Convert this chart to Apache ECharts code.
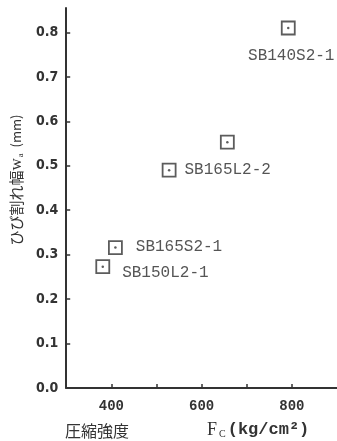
<!DOCTYPE html>
<html>
<head>
<meta charset="utf-8">
<script src="https://cdn.jsdelivr.net/npm/echarts@6/dist/echarts.min.js"></script>
<style>
html,body{margin:0;padding:0;background:#fff;}
#c{width:337px;height:441px;}
</style>
</head>
<body>
<div id="c"></div>
<script>
// ---- data ----
const specimens = ['SB140S2-1', '', 'SB165L2-2', 'SB165S2-1', 'SB150L2-1'];
const fc = [792, 657, 528, 409, 381];          // Fc (kg/cm2)
const wa = [0.81, 0.553, 0.49, 0.316, 0.273];  // crack width (mm)
const xTickValues = [400, 500, 600, 700, 800];
const xLabelValues = [400, 600, 800];
const yTickValues = [0.1, 0.2, 0.3, 0.4, 0.5, 0.6, 0.7, 0.8];
const yLabelValues = [0, 0.1, 0.2, 0.3, 0.4, 0.5, 0.6, 0.7, 0.8];

// label placement (style only)
const labelPlace = {
  'SB140S2-1': {position: 'bottom', distance: 12, offset: [3, 0]},
  'SB165L2-2': {position: 'right', distance: 8, offset: [0, 0]},
  'SB165S2-1': {position: 'right', distance: 13, offset: [0, -1]},
  'SB150L2-1': {position: 'right', distance: 12, offset: [0, 6]}
};

const ink = '#333';
const monoFont = '"Liberation Mono", "DejaVu Sans Mono", monospace';
const tickFont = '"DejaVu Sans Condensed", "Liberation Sans Narrow", "DejaVu Sans", sans-serif';

const pts = fc.map((x, i) => {
  const name = specimens[i];
  const p = labelPlace[name];
  const d = {name: name, value: [x, wa[i]]};
  if (p) {
    d.label = {show: true, formatter: name, position: p.position, distance: p.distance, offset: p.offset};
  }
  return d;
});

const chart = echarts.init(document.getElementById('c'), null, {renderer: 'canvas'});
chart.setOption({
  animation: false,
  backgroundColor: '#fff',
  grid: {left: 66, right: 0, top: 8, bottom: 53},
  xAxis: {
    type: 'value', min: 300, max: 900, interval: 100,
    axisLine: {show: true, onZero: false, lineStyle: {color: ink, width: 2}},
    axisTick: {show: true, inside: true, length: 4, customValues: xTickValues, lineStyle: {color: ink, width: 1.5}},
    axisLabel: {customValues: xLabelValues, color: ink, fontFamily: monoFont, fontWeight: 'bold', fontSize: 14, margin: 11},
    splitLine: {show: false}
  },
  yAxis: {
    type: 'value', min: 0, max: 0.855, interval: 0.1,
    name: '{j|ひび割れ幅}{w|w}{s|a}{u|  (mm)}',
    nameLocation: 'middle', nameGap: 35, nameRotate: 90,
    nameTextStyle: {
      color: ink,
      padding: [0, 0, 0, 36],
      rich: {
        j: {fontFamily: '"Noto Sans CJK JP", sans-serif', fontSize: 15, color: ink},
        w: {fontFamily: '"Liberation Serif", serif', fontSize: 17, color: ink},
        s: {fontFamily: '"Liberation Serif", serif', fontSize: 9, color: ink, verticalAlign: 'bottom', padding: [6, 0, 0, 1]},
        u: {fontFamily: '"Noto Sans CJK JP", sans-serif', fontSize: 13, color: ink}
      }
    },
    axisLine: {show: true, onZero: false, lineStyle: {color: ink, width: 2}},
    axisTick: {show: true, inside: true, length: 4, customValues: yTickValues, lineStyle: {color: ink, width: 1.5}},
    axisLabel: {customValues: yLabelValues, color: ink, fontFamily: tickFont, fontWeight: 'bold', fontSize: 14, margin: 8,
      formatter: v => v.toFixed(1)},
    splitLine: {show: false}
  },
  graphic: [
    {type: 'text', left: 65, top: 423, style: {text: '圧縮強度', font: '16px "Noto Sans CJK JP", sans-serif', fill: ink}},
    {type: 'text', left: 207, top: 421, style: {
      text: '{f|F}{c|C}{u|(kg/cm²)}',
      rich: {
        f: {font: '18px "Liberation Serif", serif', fill: ink},
        c: {font: '10px "Liberation Serif", serif', fill: ink, padding: [8, 2, 0, 2]},
        u: {font: 'bold 17px "Liberation Mono", monospace', fill: ink}
      }
    }}
  ],
  series: [
    {
      type: 'scatter',
      symbol: 'rect', symbolSize: 13,
      itemStyle: {color: 'rgba(255,255,255,0)', borderColor: ink, borderWidth: 1.8},
      label: {color: '#2a2a2a', fontFamily: monoFont, fontSize: 16},
      data: pts,
      z: 3
    },
    {
      type: 'scatter',
      symbol: 'circle', symbolSize: 2.5,
      itemStyle: {color: ink},
      data: fc.map((x, i) => [x, wa[i]]),
      silent: true,
      z: 4
    }
  ]
});
</script>
</body>
</html>
